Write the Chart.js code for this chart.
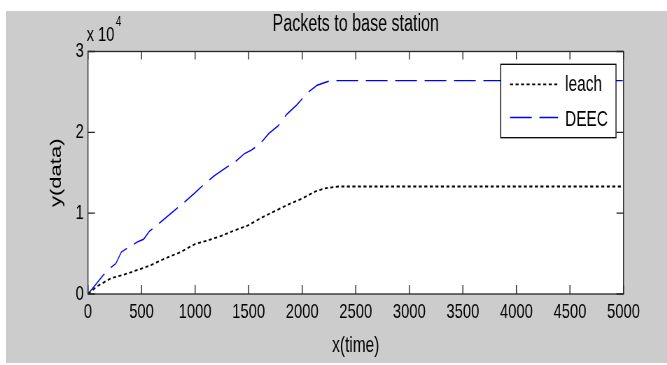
<!DOCTYPE html>
<html lang="en">
<head>
<meta charset="UTF-8">
<title>Packets to base station</title>
<script src="https://cdn.jsdelivr.net/npm/chart.js"></script>
<style>
    html, body { margin: 0; padding: 0; background: #fff; overflow: hidden; }
    body { width: 667px; height: 365px; position: relative; }
    /* fundo cinza da figura */
    #fundo { position: absolute; left: 6px; top: 11px; width: 661px; height: 352px; background: #cccccc; }
    /* o original aparece comprimido na horizontal, por isso a escala em x */
    #caixa { position: absolute; left: 0; top: 0; width: 953px; height: 365px; transform: scaleX(0.7); transform-origin: 0 0; }
</style>
</head>
<body>
<div id="fundo"></div>
<div id="caixa"><canvas id="grafico"></canvas></div>
<script>
    // Dados
    const deecTempo   = [0, 175, 260, 312, 400, 462, 519, 575, 631, 719, 900, 988, 1087, 1181, 1262, 1369, 1462, 1525, 1603, 1687, 1775, 1853, 1947, 2050, 2140, 2219, 2269, 5000];
    const deecPacotes = [0, 2870, 3770, 5200, 5950, 6440, 6770, 7790, 8360, 9350, 11360, 12380, 13610, 14640, 15400, 16300, 17380, 17800, 18530, 19840, 20790, 22200, 23370, 24890, 25830, 26200, 26400, 26400];

    const leachTempo   = [0, 88, 212, 369, 494, 587, 712, 869, 994, 1119, 1244, 1369, 1494, 1619, 1744, 1869, 1994, 2119, 2212, 2337, 5000];
    const leachPacotes = [0, 980, 1930, 2540, 3120, 3570, 4350, 5210, 6150, 6640, 7180, 7870, 8490, 9430, 10250, 11070, 11770, 12670, 13080, 13300, 13300];

    const ticksX = [0, 500, 1000, 1500, 2000, 2500, 3000, 3500, 4000, 4500, 5000];
    const ticksY = [0, 10000, 20000, 30000];

    const fonte = '"Liberation Sans", Arial, sans-serif';

    function pares(xs, ys) {
        return xs.map((v, i) => ({ x: v, y: ys[i] }));
    }

    // Moldura no estilo MATLAB: caixa, ticks para dentro, expoente e legenda
    const molduraMatlab = {
        id: 'molduraMatlab',
        beforeDatasetsDraw(chart) {
            const { ctx, chartArea: a } = chart;
            ctx.save();
            ctx.fillStyle = '#ffffff';
            ctx.fillRect(a.left, a.top, a.right - a.left, a.bottom - a.top);
            ctx.restore();
        },
        afterDatasetsDraw(chart) {
            const { ctx, chartArea: a, scales: { x, y } } = chart;
            ctx.save();
            ctx.strokeStyle = '#262626';
            ctx.lineWidth = 1.3;
            ctx.strokeRect(a.left, a.top, a.right - a.left, a.bottom - a.top);

            ctx.lineWidth = 1.4;
            ctx.beginPath();
            x.ticks.forEach(t => {
                const px = x.getPixelForValue(t.value);
                ctx.moveTo(px, a.bottom); ctx.lineTo(px, a.bottom - 9);
                ctx.moveTo(px, a.top); ctx.lineTo(px, a.top + 8);
            });
            y.ticks.forEach(t => {
                const py = y.getPixelForValue(t.value);
                ctx.moveTo(a.left, py); ctx.lineTo(a.left + 10, py);
                ctx.moveTo(a.right, py); ctx.lineTo(a.right - 10, py);
            });
            ctx.stroke();

            // "x 10^4"
            ctx.fillStyle = '#000';
            ctx.textBaseline = 'alphabetic';
            ctx.textAlign = 'left';
            ctx.font = '21px ' + fonte;
            ctx.fillText('x 10', a.left - 2, a.top - 10.5);
            const w = ctx.measureText('x 10').width;
            ctx.font = '14px ' + fonte;
            ctx.fillText('4', a.left - 2 + w + 2, a.top - 26);

            // legenda
            const lx = a.right - 10.7 - 164.7, ly = a.top + 12.8;
            ctx.fillStyle = '#ffffff';
            ctx.fillRect(lx, ly, 164.7, 73.4);
            ctx.strokeStyle = '#000';
            ctx.lineWidth = 1.3;
            ctx.strokeRect(lx, ly, 164.7, 73.4);
            const linhas = [20, 53.2];
            const textos = [20.2, 55.2];
            chart.data.datasets.forEach((ds, i) => {
                ctx.strokeStyle = ds.borderColor;
                ctx.lineWidth = ds.borderWidth;
                ctx.setLineDash(ds.borderDash);
                ctx.beginPath();
                ctx.moveTo(lx + 13.3, ly + linhas[i]);
                ctx.lineTo(lx + 81.9, ly + linhas[i]);
                ctx.stroke();
                ctx.setLineDash([]);
                ctx.fillStyle = '#000';
                ctx.font = '22px ' + fonte;
                ctx.textBaseline = 'middle';
                ctx.fillText(ds.label, lx + 92, ly + textos[i]);
            });
            ctx.restore();
        }
    };

    const ctxGrafico = document.getElementById('grafico').getContext('2d');
    const grafico = new Chart(ctxGrafico, {
        type: 'line',
        data: {
            datasets: [
                {
                    label: 'leach',
                    data: pares(leachTempo, leachPacotes),
                    borderColor: '#000000',
                    borderWidth: 1.8,
                    borderDash: [4.3, 3.6],
                    pointRadius: 0,
                    tension: 0
                },
                {
                    label: 'DEEC',
                    data: pares(deecTempo, deecPacotes),
                    borderColor: '#0000ff',
                    borderWidth: 1.4,
                    borderDash: [31, 11],
                    pointRadius: 0,
                    tension: 0
                }
            ]
        },
        options: {
            responsive: true,
            maintainAspectRatio: false,
            animation: false,
            layout: { padding: { left: 68.2, right: 62.3, top: 0, bottom: 5.8 } },
            plugins: {
                legend: { display: false },
                tooltip: { enabled: false },
                title: {
                    display: true,
                    text: 'Packets to base station',
                    fullSize: false,
                    color: '#000',
                    font: { family: fonte, size: 23, weight: 'normal' },
                    padding: { top: 11.2, bottom: 12.7 }
                }
            },
            scales: {
                x: {
                    type: 'linear',
                    min: 0,
                    max: 5000,
                    afterBuildTicks: s => { s.ticks = ticksX.map(v => ({ value: v })); },
                    afterFit: s => { s.height = 65.2; },
                    grid: { display: false, drawTicks: false },
                    border: { display: false },
                    ticks: { color: '#000', padding: 6, maxRotation: 0, font: { family: fonte, size: 21 }, callback: v => String(v) },
                    title: { display: true, text: 'x(time)', color: '#000', padding: 0, font: { family: fonte, size: 22 } }
                },
                y: {
                    min: 0,
                    max: 30000,
                    afterBuildTicks: s => { s.ticks = ticksY.map(v => ({ value: v })); },
                    afterFit: s => { s.width = 57.5; },
                    grid: { display: false, drawTicks: false },
                    border: { display: false },
                    ticks: { color: '#000', padding: 6, font: { family: fonte, size: 21 }, callback: v => String(v / 10000) },
                    title: { display: true, text: 'y(data)', color: '#000', padding: 0, font: { family: fonte, size: 22 } }
                }
            }
        },
        plugins: [molduraMatlab]
    });
</script>
</body>
</html>
